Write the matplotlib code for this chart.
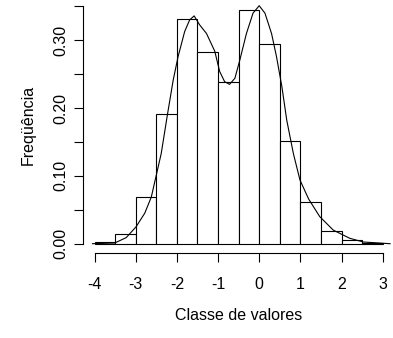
import numpy as np
import matplotlib
matplotlib.use('Agg')
import matplotlib.pyplot as plt

plt.rcParams['font.family'] = ['Liberation Sans', 'DejaVu Sans']
plt.rcParams['axes.unicode_minus'] = False

# Histogram: class edges and relative frequency densities
bin_edges = [-4.0, -3.5, -3.0, -2.5, -2.0, -1.5, -1.0, -0.5, 0.0, 0.5, 1.0, 1.5, 2.0, 2.5, 3.0]
densities = [0.002, 0.015, 0.069, 0.191, 0.331, 0.282, 0.238, 0.344, 0.294, 0.152, 0.062, 0.018, 0.006, 0.001]

# Estimated density curve
curve_x = [-4.05, -3.51, -3.23, -2.99, -2.78, -2.62, -2.50, -2.38, -2.23, -2.09, -1.97, -1.81,
           -1.69, -1.58, -1.45, -1.28, -1.08, -0.96, -0.84, -0.72, -0.59, -0.47, -0.31, -0.15,
           0.00, 0.14, 0.30, 0.42, 0.55, 0.67, 0.83, 0.99, 1.20, 1.47, 1.80, 2.20, 2.53, 3.18]
curve_y = [0.000, 0.001, 0.009, 0.025, 0.045, 0.069, 0.101, 0.133, 0.190, 0.241, 0.276, 0.313,
           0.330, 0.336, 0.323, 0.310, 0.284, 0.254, 0.239, 0.235, 0.244, 0.271, 0.310, 0.340,
           0.351, 0.340, 0.310, 0.276, 0.232, 0.182, 0.133, 0.094, 0.066, 0.040, 0.020, 0.008,
           0.0025, 0.000]

x_ticks = [-4, -3, -2, -1, 0, 1, 2, 3]
y_ticks = [0.00, 0.05, 0.10, 0.15, 0.20, 0.25, 0.30, 0.35]

fig = plt.figure(figsize=(3.93, 3.38), dpi=100)
ax = fig.add_axes([0.2112, 0.2509, 0.7919, 0.7583])

left = np.array(bin_edges[:-1])
widths = np.diff(bin_edges)
ax.bar(left, densities, width=widths, align='edge', facecolor='white',
       edgecolor='black', linewidth=0.8)
ax.plot(curve_x, curve_y, color='black', linewidth=0.8)

ax.set_xlim(-4.28, 3.28)
ax.set_ylim(-0.014, 0.364)

for s in ['top', 'right']:
    ax.spines[s].set_visible(False)
ax.spines['bottom'].set_bounds(-4, 3)
ax.spines['left'].set_bounds(0, 0.35)
for s in ['bottom', 'left']:
    ax.spines[s].set_linewidth(0.8)

ax.set_xticks(x_ticks)
ax.set_xticklabels([str(t) for t in x_ticks])
ax.set_yticks(y_ticks)
ax.set_yticklabels(['%.2f' % t if i % 2 == 0 else '' for i, t in enumerate(y_ticks)],
                   rotation=90, va='center')
ax.tick_params(axis='both', direction='out', length=6.3, width=0.8, labelsize=11.5)
ax.tick_params(axis='x', pad=11)
ax.tick_params(axis='y', pad=4)

ax.set_xlabel('Classe de valores', fontsize=11.5, labelpad=11.5)
ax.set_ylabel('Freqüência', fontsize=11.5, labelpad=13)

fig.savefig('out.png', dpi=100)
